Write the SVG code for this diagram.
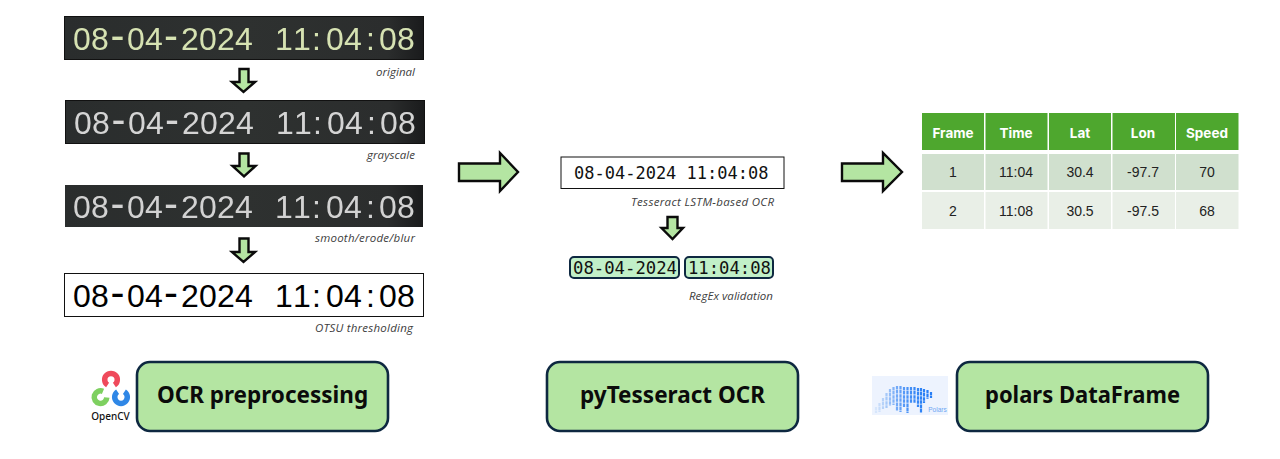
<svg xmlns="http://www.w3.org/2000/svg" width="1280" height="459" viewBox="0 0 1280 459">
<style>
.lcd{font-family:"Liberation Sans",Arial,sans-serif;font-size:32px}
.lcd tspan{font-size:42px}
.cap{font-family:"Open Sans","Noto Sans",sans-serif;font-style:italic;font-size:11.5px;fill:#404040}
.arrow{fill:#b4e5a2;stroke:#0b0b0b;stroke-width:2.4;stroke-miterlimit:8}
.title{font-family:"Noto Sans","Liberation Sans",sans-serif;font-weight:700;font-size:22.5px;fill:#0b0b0b;text-anchor:middle}
.box{fill:#b4e5a2;stroke:#0e2841;stroke-width:2.6}
.chip{fill:#c1f0c8;stroke:#0e2841;stroke-width:2}
.mono{font-family:"DejaVu Sans Mono","Liberation Mono",monospace;font-size:17px;fill:#111}
.monol{font-size:18px}
.th{font-family:"Inter","Liberation Sans",sans-serif;font-weight:700;font-size:13.5px;fill:#fff;text-anchor:middle}
.td{font-family:"Liberation Sans",sans-serif;font-size:14px;fill:#222;text-anchor:middle}
.h{fill:#4ea72e}.r1{fill:#d0e0ce}.r2{fill:#e9efe7}
</style>
<defs>
<linearGradient id="dark" x1="0" x2="1" y1="0" y2="0"><stop offset="0" stop-color="#2a2d2d"/><stop offset=".5" stop-color="#2e3130"/><stop offset=".9" stop-color="#2b2d2d"/><stop offset="1" stop-color="#1a1b1c"/></linearGradient>
<filter id="soft" x="-5%" y="-20%" width="110%" height="140%"><feGaussianBlur stdDeviation=".45"/></filter>
</defs>

<g id="panel-original">
<rect x="64.500" y="16.500" width="359" height="43" fill="url(#dark)" stroke="#111"/>
<text class="lcd" y="50" fill="#d6e2b2" filter="url(#soft)" x="73 91 110.500 127 145 164 181 199 217 235 255 275 293 312 326 344 366 379 397">08<tspan>-</tspan>04<tspan>-</tspan>2024 11:04:08</text>
<text class="cap" x="376" y="76" textLength="39" lengthAdjust="spacing">original</text>
</g>
<g id="panel-grayscale">
<rect x="65.500" y="100.500" width="359" height="43" fill="url(#dark)" stroke="#111"/>
<text class="lcd" y="134" fill="#d4d4d4" filter="url(#soft)" x="74 92 111.500 128 146 165 182 200 218 236 256 276 294 313 327 345 367 380 398">08<tspan>-</tspan>04<tspan>-</tspan>2024 11:04:08</text>
<text class="cap" x="367" y="159" textLength="48" lengthAdjust="spacing">grayscale</text>
</g>
<g id="panel-smooth">
<rect x="65" y="185" width="358" height="42" fill="url(#dark)"/>
<text class="lcd" y="218" fill="#d2d2d2" filter="url(#soft)" x="73 91 110.500 127 145 164 181 199 217 235 255 275 293 312 326 344 366 379 397">08<tspan>-</tspan>04<tspan>-</tspan>2024 11:04:08</text>
<text class="cap" x="315" y="242" textLength="100" lengthAdjust="spacing">smooth/erode/blur</text>
</g>
<g id="panel-otsu">
<rect x="64.500" y="273.500" width="359" height="43" fill="#fff" stroke="#111"/>
<text class="lcd" y="307" fill="#000" x="73 91 110.500 127 145 164 181 199 217 235 255 275 293 312 326 344 366 379 397">08<tspan>-</tspan>04<tspan>-</tspan>2024 11:04:08</text>
<text class="cap" x="315" y="332" textLength="98" lengthAdjust="spacing">OTSU thresholding</text>
</g>

<g id="tesseract-output">
<rect x="561" y="157" width="223" height="31.500" fill="#fff" stroke="#111"/>
<text class="mono" x="574" y="179">08-04-2024 11:04:08</text>
<text class="cap" x="631" y="206" textLength="143" lengthAdjust="spacing">Tesseract LSTM-based OCR</text>
</g>
<g id="regex-date">
<rect class="chip" x="570" y="257" width="109" height="21" rx="4"/>
<text class="mono monol" x="573" y="274" textLength="104" lengthAdjust="spacingAndGlyphs">08-04-2024</text>
</g>
<g id="regex-time">
<rect class="chip" x="685" y="257" width="88" height="21" rx="4"/>
<text class="mono monol" x="688" y="274" textLength="83" lengthAdjust="spacingAndGlyphs">11:04:08</text>
<text class="cap" x="689" y="300" textLength="84" lengthAdjust="spacing">RegEx validation</text>
</g>

<g id="dataframe-table">
<rect class="h" x="922" y="113" width="62" height="37"/><rect class="h" x="985.500" y="113" width="62" height="37"/><rect class="h" x="1049" y="113" width="62" height="37"/><rect class="h" x="1112.500" y="113" width="62.500" height="37"/><rect class="h" x="1176" y="113" width="62.500" height="37"/>
<rect class="r1" x="922" y="154" width="62" height="36"/><rect class="r1" x="985.500" y="154" width="62" height="36"/><rect class="r1" x="1049" y="154" width="62" height="36"/><rect class="r1" x="1112.500" y="154" width="62.500" height="36"/><rect class="r1" x="1176" y="154" width="62.500" height="36"/>
<rect class="r2" x="922" y="192" width="62" height="37"/><rect class="r2" x="985.500" y="192" width="62" height="37"/><rect class="r2" x="1049" y="192" width="62" height="37"/><rect class="r2" x="1112.500" y="192" width="62.500" height="37"/><rect class="r2" x="1176" y="192" width="62.500" height="37"/>
<text class="th" x="953" y="138">Frame</text><text class="th" x="1016" y="138">Time</text><text class="th" x="1080" y="138">Lat</text><text class="th" x="1143" y="138">Lon</text><text class="th" x="1207" y="138">Speed</text>
<text class="td" x="953" y="177">1</text><text class="td" x="1016" y="177">11:04</text><text class="td" x="1080" y="177">30.4</text><text class="td" x="1143" y="177">-97.7</text><text class="td" x="1207" y="177">70</text>
<text class="td" x="953" y="216">2</text><text class="td" x="1016" y="216">11:08</text><text class="td" x="1080" y="216">30.5</text><text class="td" x="1143" y="216">-97.5</text><text class="td" x="1207" y="216">68</text>
</g>

<g id="label-ocr">
<rect class="box" x="137" y="362" width="251" height="69" rx="13"/>
<text class="title" x="262.500" y="403">OCR preprocessing</text>
</g>
<g id="label-tesseract">
<rect class="box" x="547" y="362" width="251" height="69" rx="13"/>
<text class="title" x="672.500" y="403">pyTesseract OCR</text>
</g>
<g id="label-polars">
<rect class="box" x="957" y="362" width="251" height="69" rx="13"/>
<text class="title" x="1082.500" y="403" textLength="195" lengthAdjust="spacingAndGlyphs">polars DataFrame</text>
</g>

<g id="opencv-logo" fill="none" stroke-width="5.500">
<path stroke="#ef4a5b" d="M114.400 385A6.300 6.300 0 1 0 107.600 385"/>
<path stroke="#7ed060" d="M103 391.400A6.300 6.300 0 1 0 106.800 397.500"/>
<path stroke="#2f87e6" d="M117.600 391.800A6.300 6.300 0 1 0 124.400 391.800"/>
<text x="110.500" y="420" font-family="Noto Sans,Liberation Sans,sans-serif" font-weight="500" font-size="10" fill="#111" stroke="none" text-anchor="middle">OpenCV</text>
</g>

<g id="polars-logo">
<rect x="872" y="376" width="76" height="39" fill="#edf3fe"/>
<g fill="none" stroke-width="2.200" stroke-dasharray="3.500 .6">
<path stroke="#d7e6fb" d="M876 407V413"/>
<path stroke="#c6dcfa" d="M879.500 403V412"/>
<path stroke="#b6d2f9" d="M883 398V409"/>
<path stroke="#a6c9f8" d="M886.500 393V408"/>
<path stroke="#93bdf7" d="M890 389V406"/>
<path stroke="#82b3f7" d="M893.500 387V405"/>
<path stroke="#72a9f7" d="M897 386V411"/>
<path stroke="#64a1f7" d="M900.500 386V412"/>
<path stroke="#5699f7" d="M904 387V407"/>
<path stroke="#4b93f6" d="M907.500 387V413"/>
<path stroke="#428ef6" d="M911 387V403"/>
<path stroke="#3a89f6" d="M914.500 387V403"/>
<path stroke="#3486f5" d="M918 388V407"/>
<path stroke="#2f83f5" d="M921 388V413"/>
<path stroke="#2b80f5" d="M924 389V403"/>
<path stroke="#287ef5" d="M927.500 390V399"/>
<path stroke="#287ef5" d="M931 392V398"/>
</g>
<text x="937.500" y="412" font-family="Liberation Sans,sans-serif" font-size="6.500" fill="#6ea6f3" text-anchor="middle">Polars</text>
</g>

<g id="connectors">
<path class="arrow" d="M239.500 69H248.500V82H255L243.500 92L232 82H239.500Z"/>
<path class="arrow" d="M239.500 153.500H248.500V166H255.500L244 176.500L232.500 166H239.500Z"/>
<path class="arrow" d="M239.500 238.500H248.500V252H255L243.500 262L232 252H239.500Z"/>
<path class="arrow" d="M667.500 217H677.500V228H683L672.500 239L661.500 228H667.500Z"/>
<path class="arrow" d="M459 163.500H500V153L518 172L500 191V181H459Z"/>
<path class="arrow" d="M842 163.500H883V153L902 172L883 191V181H842Z"/>
</g>
</svg>
